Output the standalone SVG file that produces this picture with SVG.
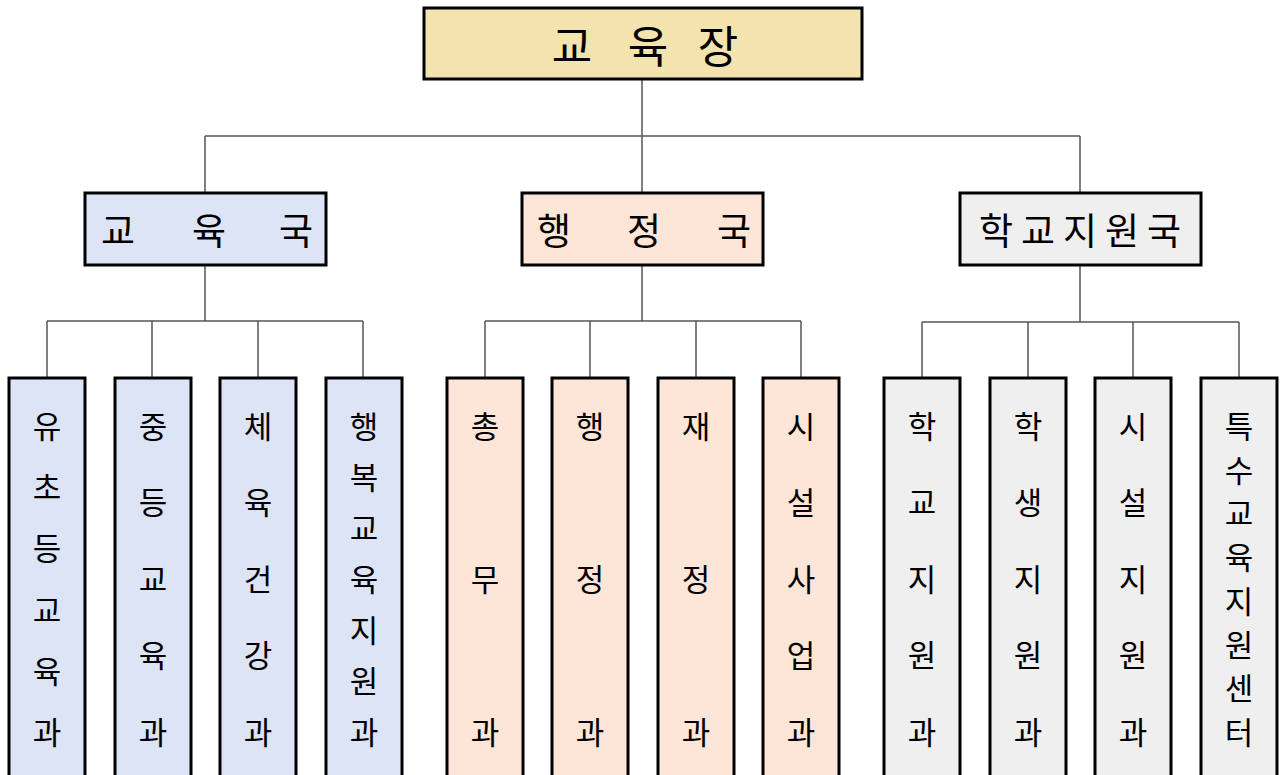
<svg xmlns="http://www.w3.org/2000/svg" width="1281" height="775" viewBox="0 0 1281 775">
<style>
.box{stroke:#000;stroke-width:3}
.top{fill:#F3E4AF}
.blue{fill:#DDE4F6}
.peach{fill:#FDE6D8}
.gray{fill:#EFEFEF}
.conn{stroke:#555;stroke-width:1.5;fill:none}
text{font-family:"Noto Sans CJK KR","Noto Sans",sans-serif;fill:#000;text-anchor:middle;dominant-baseline:central}
.t1{font-size:44px}
.t2{font-size:37px}
.t3{font-size:31px}
</style>
<rect width="1281" height="775" fill="#fff"/>
<g id="connectors">
<path class="conn" d="M642 79V136M205 136H1080M205 136V192M642 136V192M1080 136V192"/>
<path class="conn" d="M205 265V321M47 321H363M47 321V378M152 321V378M258 321V378M363 321V378"/>
<path class="conn" d="M642 265V321M485 321H801M485 321V378M590 321V378M696 321V378M801 321V378"/>
<path class="conn" d="M1080 265V322M922 322H1239M922 322V378M1028 322V378M1133 322V378M1239 322V378"/>
</g>
<g id="n-top"><rect class="box top" x="424" y="8" width="438" height="71"/>
<text class="t1" y="44"><tspan x="572">교</tspan><tspan x="643"> 육</tspan><tspan x="713"> 장</tspan></text></g>
<g id="n-edu"><rect class="box blue" x="85" y="193" width="241" height="72"/>
<text class="t2" y="229"><tspan x="118">교</tspan><tspan x="205"> 육</tspan><tspan x="292"> 국</tspan></text></g>
<g id="n-adm"><rect class="box peach" x="522" y="193" width="241" height="72"/>
<text class="t2" y="229"><tspan x="554">행</tspan><tspan x="640"> 정</tspan><tspan x="730"> 국</tspan></text></g>
<g id="n-sup"><rect class="box gray" x="960" y="193" width="241" height="72"/>
<text class="t2" y="229"><tspan x="996">학</tspan><tspan x="1038">교</tspan><tspan x="1080">지</tspan><tspan x="1122">원</tspan><tspan x="1164">국</tspan></text></g>

<g id="n-l1"><rect class="box blue" x="9" y="378" width="76" height="420"/>
<text class="t3"><tspan x="47" y="424">유</tspan><tspan x="47" y="485">초</tspan><tspan x="47" y="546">등</tspan><tspan x="47" y="608">교</tspan><tspan x="47" y="669">육</tspan><tspan x="47" y="730">과</tspan></text></g>
<g id="n-l2"><rect class="box blue" x="115" y="378" width="76" height="420"/>
<text class="t3"><tspan x="153" y="424">중</tspan><tspan x="153" y="500">등</tspan><tspan x="153" y="577">교</tspan><tspan x="153" y="653">육</tspan><tspan x="153" y="730">과</tspan></text></g>
<g id="n-l3"><rect class="box blue" x="220" y="378" width="76" height="420"/>
<text class="t3"><tspan x="258" y="424">체</tspan><tspan x="258" y="500">육</tspan><tspan x="258" y="577">건</tspan><tspan x="258" y="653">강</tspan><tspan x="258" y="730">과</tspan></text></g>
<g id="n-l4"><rect class="box blue" x="326" y="378" width="76" height="420"/>
<text class="t3"><tspan x="364" y="424">행</tspan><tspan x="364" y="475">복</tspan><tspan x="364" y="526">교</tspan><tspan x="364" y="577">육</tspan><tspan x="364" y="628">지</tspan><tspan x="364" y="679">원</tspan><tspan x="364" y="730">과</tspan></text></g>

<g id="n-m1"><rect class="box peach" x="447" y="378" width="76" height="420"/>
<text class="t3"><tspan x="485" y="424">총</tspan><tspan x="485" y="577">무</tspan><tspan x="485" y="730">과</tspan></text></g>
<g id="n-m2"><rect class="box peach" x="552" y="378" width="76" height="420"/>
<text class="t3"><tspan x="590" y="424">행</tspan><tspan x="590" y="577">정</tspan><tspan x="590" y="730">과</tspan></text></g>
<g id="n-m3"><rect class="box peach" x="658" y="378" width="76" height="420"/>
<text class="t3"><tspan x="696" y="424">재</tspan><tspan x="696" y="577">정</tspan><tspan x="696" y="730">과</tspan></text></g>
<g id="n-m4"><rect class="box peach" x="763" y="378" width="76" height="420"/>
<text class="t3"><tspan x="801" y="424">시</tspan><tspan x="801" y="500">설</tspan><tspan x="801" y="577">사</tspan><tspan x="801" y="653">업</tspan><tspan x="801" y="730">과</tspan></text></g>

<g id="n-r1"><rect class="box gray" x="884" y="378" width="76" height="420"/>
<text class="t3"><tspan x="922" y="424">학</tspan><tspan x="922" y="500">교</tspan><tspan x="922" y="577">지</tspan><tspan x="922" y="653">원</tspan><tspan x="922" y="730">과</tspan></text></g>
<g id="n-r2"><rect class="box gray" x="990" y="378" width="76" height="420"/>
<text class="t3"><tspan x="1028" y="424">학</tspan><tspan x="1028" y="500">생</tspan><tspan x="1028" y="577">지</tspan><tspan x="1028" y="653">원</tspan><tspan x="1028" y="730">과</tspan></text></g>
<g id="n-r3"><rect class="box gray" x="1095" y="378" width="76" height="420"/>
<text class="t3"><tspan x="1133" y="424">시</tspan><tspan x="1133" y="500">설</tspan><tspan x="1133" y="577">지</tspan><tspan x="1133" y="653">원</tspan><tspan x="1133" y="730">과</tspan></text></g>
<g id="n-r4"><rect class="box gray" x="1201" y="378" width="76" height="420"/>
<text class="t3"><tspan x="1239" y="424">특</tspan><tspan x="1239" y="468">수</tspan><tspan x="1239" y="511">교</tspan><tspan x="1239" y="555">육</tspan><tspan x="1239" y="599">지</tspan><tspan x="1239" y="643">원</tspan><tspan x="1239" y="686">센</tspan><tspan x="1239" y="730">터</tspan></text></g>
</svg>
